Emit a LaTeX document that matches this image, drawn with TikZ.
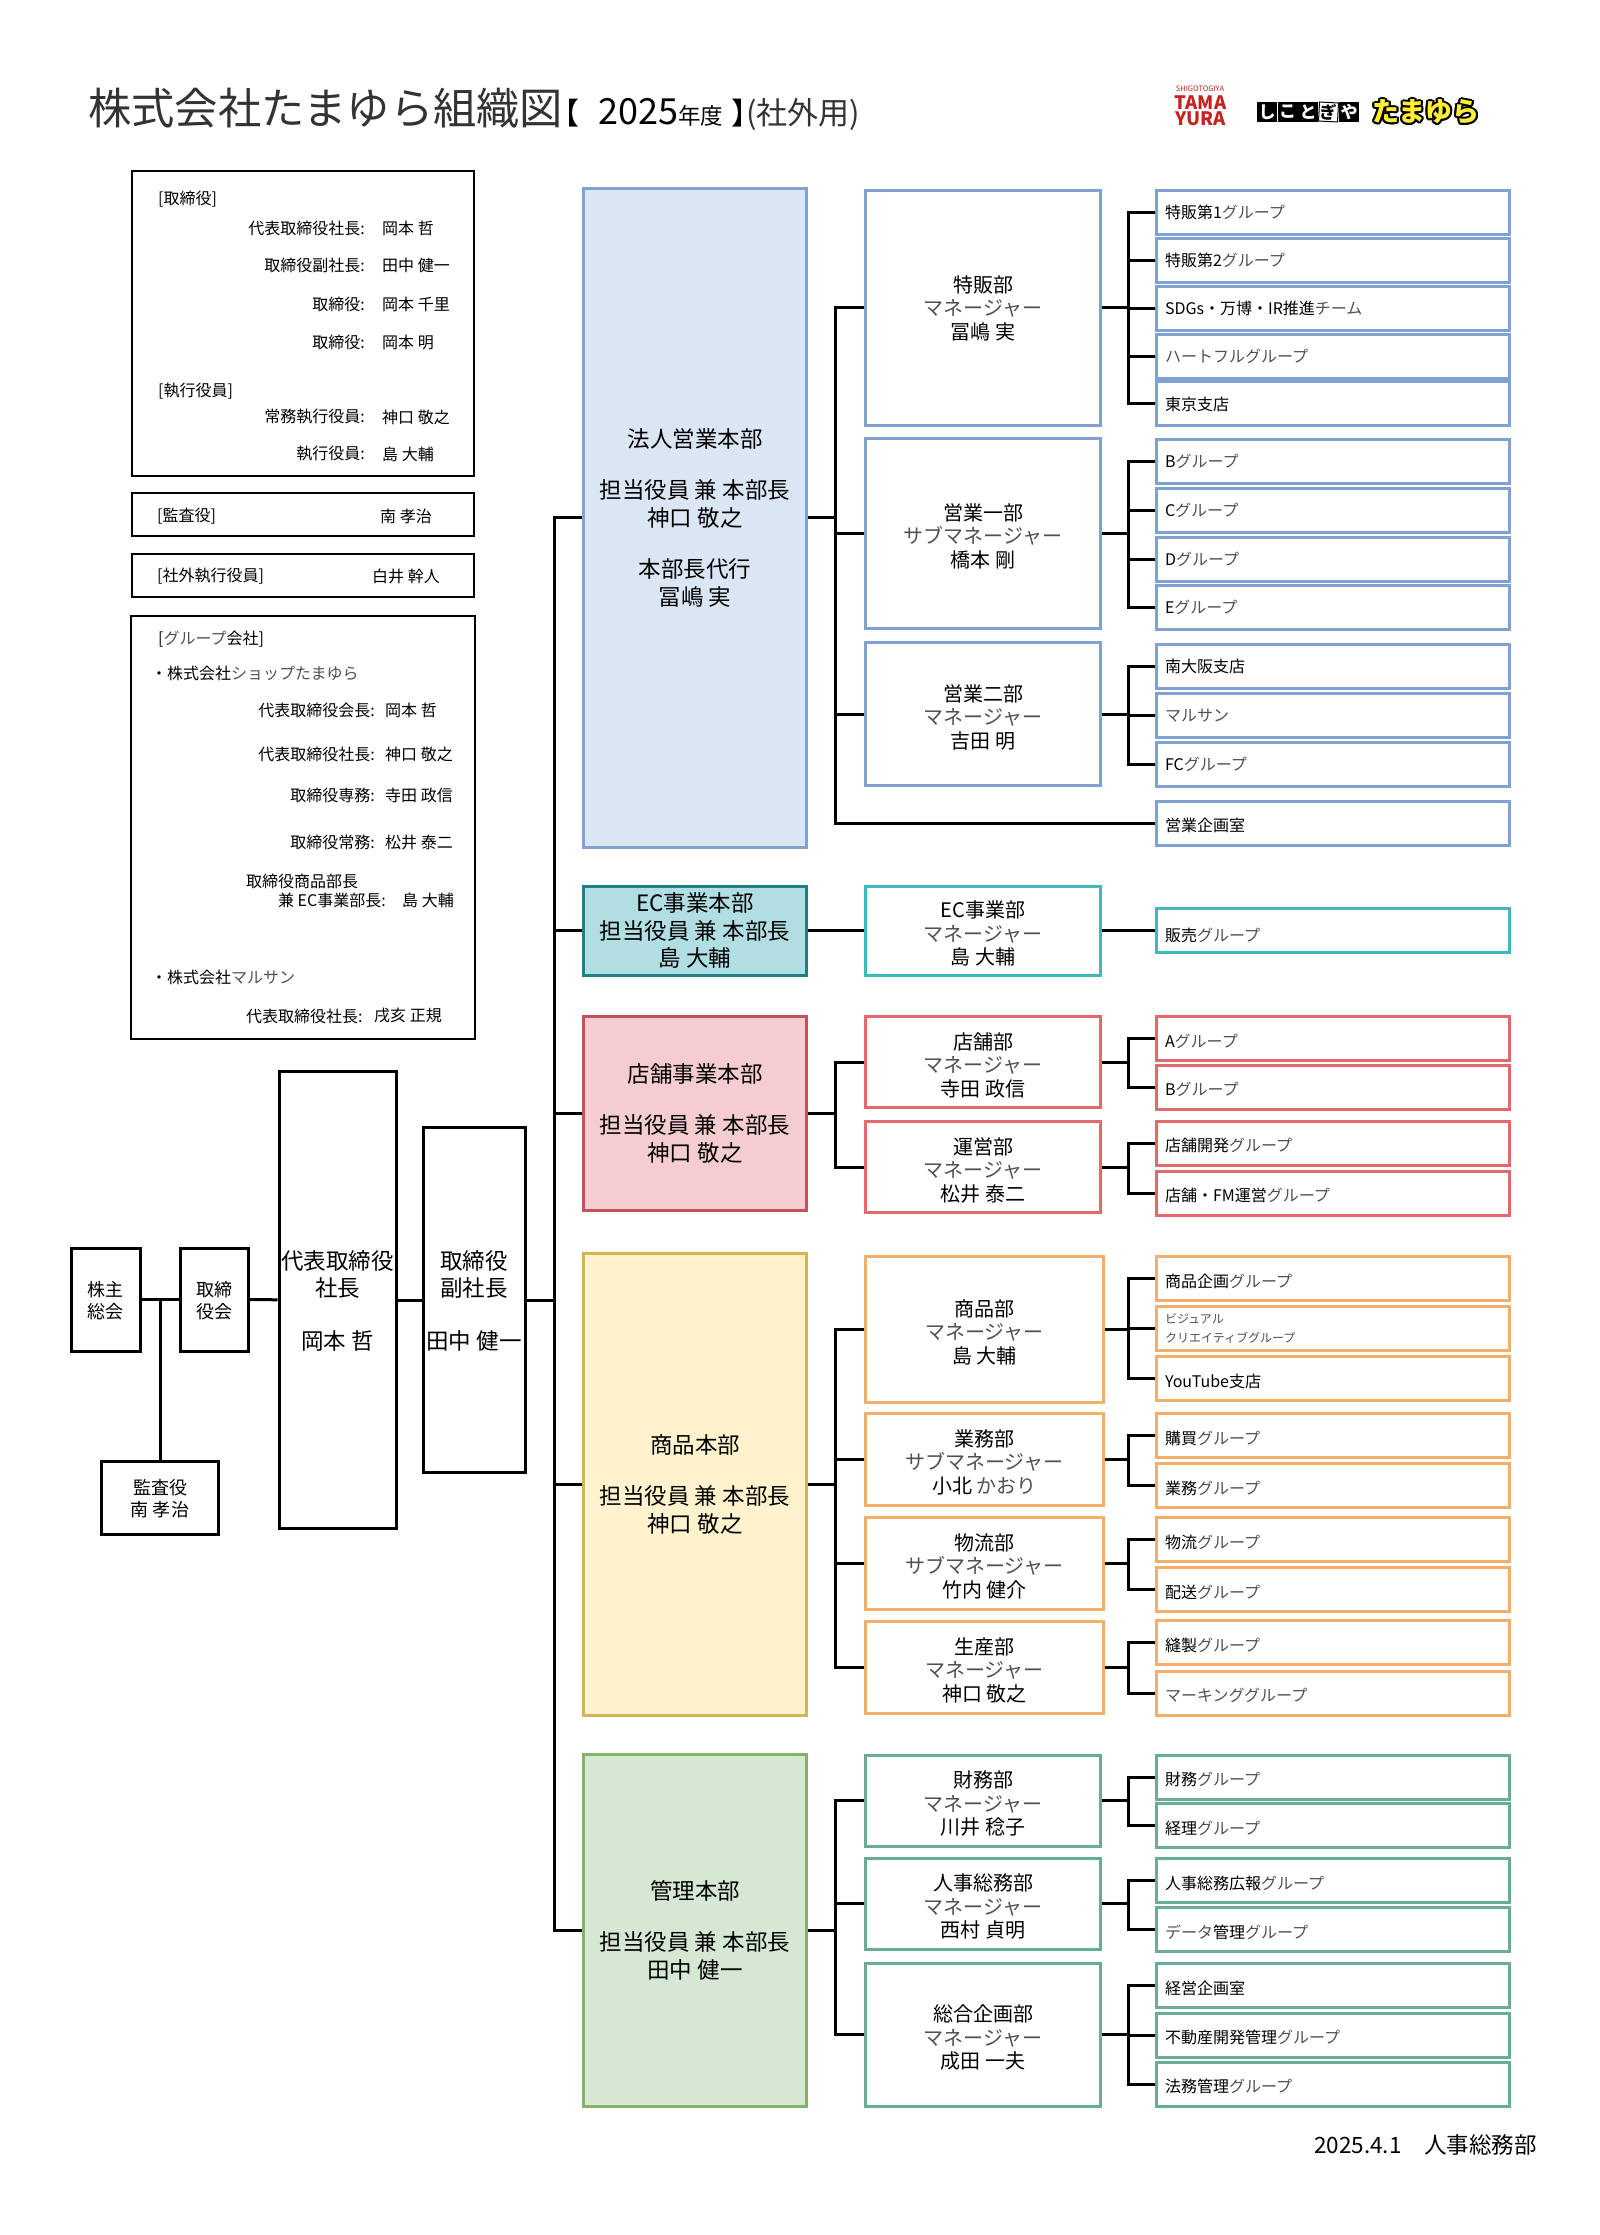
\documentclass[tikz,border=0pt]{standalone}
\usepackage{fontspec}
\setmainfont{Noto Sans CJK JP}
\definecolor{kanagray}{HTML}{505050}
\definecolor{blueB}{HTML}{7FA2D3}
\definecolor{blueF}{HTML}{DAE6F4}
\definecolor{tealD}{HTML}{1F7F87}
\definecolor{tealB}{HTML}{3FB7BD}
\definecolor{tealF}{HTML}{B1DEE3}
\definecolor{redD}{HTML}{C4525A}
\definecolor{redB}{HTML}{E2696C}
\definecolor{redF}{HTML}{F5CDD0}
\definecolor{yelB}{HTML}{D3B552}
\definecolor{yelF}{HTML}{FFF2CC}
\definecolor{oraB}{HTML}{F4AE6B}
\definecolor{greD}{HTML}{82B366}
\definecolor{greB}{HTML}{69AD97}
\definecolor{greF}{HTML}{D5E8D4}
\definecolor{logored}{HTML}{C8201F}
\definecolor{logoyel}{HTML}{FFEE33}
\newcommand{\kn}[1]{{\color{kanagray}#1}}
\newcommand{\mt}{\rule{0pt}{21pt}}
\tikzset{every node/.style={inner sep=0pt}}
\tikzset{ht/.style={minimum height=#1}}
\tikzset{wd/.style={minimum width=#1}}
\tikzset{lower/.style={execute at begin node={\rule{0pt}{#1}}}}
\tikzset{top/.style={rectangle,draw,line width=3pt,fill=white,align=center,text depth=0pt,font=\fontsize{22.5}{26.5}\selectfont}}
\tikzset{small/.style={rectangle,draw,line width=3pt,fill=white,align=center,text depth=0pt,font=\fontsize{18}{22}\selectfont}}
\tikzset{info/.style={rectangle,draw,line width=2pt,minimum width=342pt}}
\tikzset{txt/.style={font=\fontsize{16}{19}\selectfont}}
\tikzset{hq/.style 2 args={rectangle,draw=#1,fill=#2,line width=3pt,minimum width=223pt,align=center,font=\fontsize{22.5}{27.5}\selectfont}}
\tikzset{mgr/.style={rectangle,draw=#1,fill=white,line width=3pt,minimum width=235pt,align=center,text depth=0pt,font=\fontsize{20}{23.5}\selectfont}}
\tikzset{grp/.style={rectangle,draw=#1,fill=white,line width=3pt,inner xsep=9pt,text width=335pt,minimum height=44pt,align=left,text depth=0pt,font=\fontsize{16}{19}\selectfont}}
\tikzset{grpb/.style={grp=#1,lower=17pt}}
\tikzset{conn/.style={line width=3pt}}

\begin{document}
\begin{tikzpicture}[x=1pt,y=-1pt]
  \useasboundingbox (0,0) rectangle (1600,2235);
  % heading
  \node[anchor=west,font=\fontsize{43.3}{43}\selectfont,text=black!80] (title) at (88,109) {株式会社たまゆら組織図\hspace{-14pt}{\color{black}\fontsize{30}{30}\selectfont 【\hspace{19pt}\fontsize{36}{36}\selectfont 2025\fontsize{22.5}{30}\selectfont 年度\hspace{8pt}\fontsize{30}{30}\selectfont 】}\hspace{-15pt}\fontsize{31}{31}\selectfont (社外用)};
  \node[font=\fontsize{22.5}{22}\selectfont] (issued) at (1425.5,2145) {2025.4.1　人事総務部};
  % logos
  \node[text=logored,font=\fontsize{7.5}{8}\selectfont] (logoA) at (1200,89) {SHIGOTOGIYA};
  \node[text=logored,font=\fontsize{18.5}{16}\bfseries\selectfont,align=center] (logoB) at (1200.5,111) {TAMA\\YURA};
  \foreach \i/\c in {0/し,1/こ,2/と,4/や}
    \node[fill=black,text=white,minimum size=20pt,font=\fontsize{17}{17}\bfseries\selectfont] (tile\i) at (1267+\i*20.5,112) {\c};
  \node[draw,line width=1pt,fill=white,minimum size=19pt,rotate=-3,font=\fontsize{17}{17}\bfseries\selectfont] (tile3) at (1328.5,112) {ぎ};
  \foreach \a in {0,30,...,330}
    \node[font=\fontsize{27}{27}\bfseries\selectfont] (shade\a) at ([shift={(\a:2)}]1426,112) {たまゆら};
  \node[text=logoyel,font=\fontsize{27}{27}\bfseries\selectfont] (logoC) at (1426,112) {たまゆら};

  % officers
  \node[info,ht=305pt] (board) at (303,323.5) {};
  \node[info,ht=43pt] (audit) at (303,514.5) {};
  \node[info,ht=43pt] (outside) at (303,575.5) {};
  \node[info,wd=344pt,ht=423pt] (group) at (303,827.5) {};
  \node[txt,anchor=west] (h1) at (158,199) {[取締役]};
  \node[txt,anchor=west] (h2) at (158,391) {[執行役員]};
  \foreach \yy/\role/\who in {228/代表取締役社長/岡本 哲,265/取締役副社長/田中 健一,304/取締役/岡本 千里,342/取締役/岡本 明,417/常務執行役員/神口 敬之,454/執行役員/島 大輔}{
    \node[txt,anchor=east] (ra\yy) at (365,\yy) {\role:};
    \node[txt,anchor=west] (na\yy) at (382,\yy) {\who};
  }
  \node[txt,anchor=west] (h3) at (157,516) {[監査役]};
  \node[txt,anchor=west] (n3) at (380,516) {南 孝治};
  \node[txt,anchor=west] (h4) at (157,576) {[社外執行役員]};
  \node[txt,anchor=west] (n4) at (372,576) {白井 幹人};
  \node[txt,anchor=west] (h5) at (158,639) {[\kn{グループ}会社]};
  \node[txt,anchor=west] (c1) at (151,673) {・株式会社\kn{ショップたまゆら}};
  \foreach \yy/\role/\who in {710/代表取締役会長/岡本 哲,754/代表取締役社長/神口 敬之,795/取締役専務/寺田 政信,842/取締役常務/松井 泰二}{
    \node[txt,anchor=east] (rb\yy) at (375,\yy) {\role:};
    \node[txt,anchor=west] (nb\yy) at (385,\yy) {\who};
  }
  \node[txt,anchor=west] (r9) at (246,881) {取締役商品部長};
  \node[txt,anchor=east] (r10) at (386,900) {兼 EC事業部長:};
  \node[txt,anchor=west] (n10) at (402,900) {島 大輔};
  \node[txt,anchor=west] (c2) at (151,977) {・株式会社\kn{マルサン}};
  \node[txt,anchor=west] (r11) at (246,1016) {代表取締役社長:};
  \node[txt,anchor=west] (n11) at (374,1016) {戌亥 正規};

  % top of the company
  \node[small,wd=69pt,ht=103pt] (holders) at (105.5,1299.5) {株主\\総会};
  \node[small,wd=68pt,ht=103pt] (council) at (214,1299.5) {取締\\役会};
  \node[small,wd=117pt,ht=73pt] (auditor) at (160,1497.5) {監査役\\南 孝治};
  \node[top,wd=117pt,ht=457pt] (ceo) at (337.5,1300) {代表取締役\\社長\\[26.5pt]岡本 哲};
  \node[top,wd=102pt,ht=345pt] (vice) at (474,1300) {取締役\\副社長\\[26.5pt]田中 健一};
  \coordinate (bus0) at (554,0);
  \coordinate (bus1) at (835,0);
  \coordinate (bus2) at (1128,0);

  % head offices
  \node[hq={blueB}{blueF},ht=659pt] (hojin) at (695,517.5) {法人営業本部\\[24pt]担当役員 兼 本部長\\神口 敬之\\[24pt]本部長代行\\冨嶋 実};
  \node[hq={tealD}{tealF},ht=89pt] (ec) at (695,930.5) {EC事業本部\\担当役員 兼 本部長\\島 大輔};
  \node[hq={redD}{redF},ht=194pt] (store) at (695,1113) {店舗事業本部\\[24pt]担当役員 兼 本部長\\神口 敬之};
  \node[hq={yelB}{yelF},ht=462pt] (goods) at (695,1484) {商品本部\\[24pt]担当役員 兼 本部長\\神口 敬之};
  \node[hq={greD}{greF},ht=352pt] (admin) at (695,1930) {管理本部\\[24pt]担当役員 兼 本部長\\田中 健一};

  % departments
  \node[mgr=blueB,ht=235pt] (tokuhan) at (983,307.5) {特販部\\\kn{マネージャー}\\冨嶋 実};
  \node[mgr=blueB,ht=190pt] (eigyoA) at (983,533) {\mt 営業一部\\\kn{サブマネージャー}\\橋本 剛};
  \node[mgr=blueB,ht=143pt] (eigyoB) at (983,714) {\mt 営業二部\\\kn{マネージャー}\\吉田 明};
  \node[mgr=tealB,ht=89pt] (ecdept) at (983,930.5) {\mt EC事業部\\\kn{マネージャー}\\島 大輔};
  \node[mgr=redB,ht=91pt] (tenpo) at (983,1062) {\mt 店舗部\\\kn{マネージャー}\\寺田 政信};
  \node[mgr=redB,ht=91pt] (unei) at (983,1167) {\mt 運営部\\\kn{マネージャー}\\松井 泰二};
  \node[mgr=oraB,wd=238pt,ht=146pt] (shohin) at (984.5,1329) {\mt 商品部\\\kn{マネージャー}\\島 大輔};
  \node[mgr=oraB,wd=238pt,ht=92pt] (gyomu) at (984.5,1459) {\mt 業務部\\\kn{サブマネージャー}\\小北 \kn{かおり}};
  \node[mgr=oraB,wd=238pt,ht=92pt] (butsu) at (984.5,1563) {\mt 物流部\\\kn{サブマネージャー}\\竹内 健介};
  \node[mgr=oraB,wd=238pt,ht=92pt] (seisan) at (984.5,1667) {\mt 生産部\\\kn{マネージャー}\\神口 敬之};
  \node[mgr=greB,ht=91pt] (zaimu) at (983,1800.5) {\mt 財務部\\\kn{マネージャー}\\川井 稔子};
  \node[mgr=greB,ht=91pt] (jinji) at (983,1903.5) {\mt 人事総務部\\\kn{マネージャー}\\西村 貞明};
  \node[mgr=greB,ht=143pt] (sogo) at (983,2034.5) {\mt 総合企画部\\\kn{マネージャー}\\成田 一夫};

  % groups
  \node[grp=blueB] (gA1) at (1332.5,212) {特販第1\kn{グループ}};
  \node[grp=blueB] (gA2) at (1332.5,260) {特販第2\kn{グループ}};
  \node[grp=blueB] (gA3) at (1332.5,308) {SDGs・万博・IR推進\kn{チーム}};
  \node[grp=blueB] (gA4) at (1332.5,356) {\kn{ハートフルグループ}};
  \node[grp=blueB] (gA5) at (1332.5,403.5) {東京支店};
  \node[grp=blueB] (gB1) at (1332.5,461) {B\kn{グループ}};
  \node[grp=blueB] (gB2) at (1332.5,510) {C\kn{グループ}};
  \node[grp=blueB] (gB3) at (1332.5,559) {D\kn{グループ}};
  \node[grp=blueB] (gB4) at (1332.5,607) {E\kn{グループ}};
  \node[grp=blueB] (gC1) at (1332.5,666) {南大阪支店};
  \node[grp=blueB] (gC2) at (1332.5,715) {\kn{マルサン}};
  \node[grp=blueB] (gC3) at (1332.5,764) {FC\kn{グループ}};
  \node[grpb=blueB] (kikaku) at (1332.5,823) {営業企画室};
  \node[grp=tealB,lower=22pt] (hanbai) at (1332.5,930.5) {販売\kn{グループ}};
  \node[grpb=redB] (gE1) at (1332.5,1038.5) {A\kn{グループ}};
  \node[grpb=redB] (gE2) at (1332.5,1087) {B\kn{グループ}};
  \node[grpb=redB] (gF1) at (1332.5,1143) {店舗開発\kn{グループ}};
  \node[grpb=redB] (gF2) at (1332.5,1193) {店舗・FM運営\kn{グループ}};
  \node[grpb=oraB] (gG1) at (1332.5,1278.5) {商品企画\kn{グループ}};
  \node[grp=oraB,text depth={},font=\fontsize{12}{19}\selectfont,text=kanagray] (gG2) at (1332.5,1328.5) {ビジュアル\\クリエイティブグループ};
  \node[grpb=oraB] (gG3) at (1332.5,1378.5) {YouTube支店};
  \node[grpb=oraB] (gH1) at (1332.5,1435.5) {購買\kn{グループ}};
  \node[grpb=oraB] (gH2) at (1332.5,1485.5) {業務\kn{グループ}};
  \node[grpb=oraB] (gI1) at (1332.5,1539.5) {物流\kn{グループ}};
  \node[grpb=oraB] (gI2) at (1332.5,1589.5) {配送\kn{グループ}};
  \node[grpb=oraB] (gJ1) at (1332.5,1642.5) {縫製\kn{グループ}};
  \node[grpb=oraB] (gJ2) at (1332.5,1693) {\kn{マーキンググループ}};
  \node[grpb=greB] (gK1) at (1332.5,1777) {財務\kn{グループ}};
  \node[grpb=greB] (gK2) at (1332.5,1825.5) {経理\kn{グループ}};
  \node[grpb=greB] (gL1) at (1332.5,1880.5) {人事総務広報\kn{グループ}};
  \node[grpb=greB] (gL2) at (1332.5,1929.5) {\kn{データ}管理\kn{グループ}};
  \node[grpb=greB] (gM1) at (1332.5,1985.5) {経営企画室};
  \node[grpb=greB] (gM2) at (1332.5,2035) {不動産開発管理\kn{グループ}};
  \node[grpb=greB] (gM3) at (1332.5,2084) {法務管理\kn{グループ}};

  % connectors
  \foreach \a/\b in {holders/council,council/ceo,ceo/vice,ec/ecdept,ecdept/hanbai}
    \draw[conn] (\a) -- (\b);
  \draw[conn] (auditor.north) -- (auditor.north |- holders.east);
  \foreach \b in {hojin,ec,store,goods,admin}
    \draw[conn] (vice.east) -- (vice.east -| bus0) |- (\b.west);
  \foreach \a/\b in {hojin/tokuhan,hojin/eigyoA,hojin/eigyoB,hojin/kikaku,store/tenpo,store/unei,goods/shohin,goods/gyomu,goods/butsu,goods/seisan,admin/zaimu,admin/jinji,admin/sogo}
    \draw[conn] (\a.east) -- (\a.east -| bus1) |- (\b.west);
  \foreach \a/\b in {tokuhan/gA1,tokuhan/gA2,tokuhan/gA3,tokuhan/gA4,tokuhan/gA5,eigyoA/gB1,eigyoA/gB2,eigyoA/gB3,eigyoA/gB4,eigyoB/gC1,eigyoB/gC2,eigyoB/gC3,tenpo/gE1,tenpo/gE2,unei/gF1,unei/gF2,shohin/gG1,shohin/gG2,shohin/gG3,gyomu/gH1,gyomu/gH2,butsu/gI1,butsu/gI2,seisan/gJ1,seisan/gJ2,zaimu/gK1,zaimu/gK2,jinji/gL1,jinji/gL2,sogo/gM1,sogo/gM2,sogo/gM3}
    \draw[conn] (\a.east) -- (\a.east -| bus2) |- (\b.west);
\end{tikzpicture}
\end{document}
